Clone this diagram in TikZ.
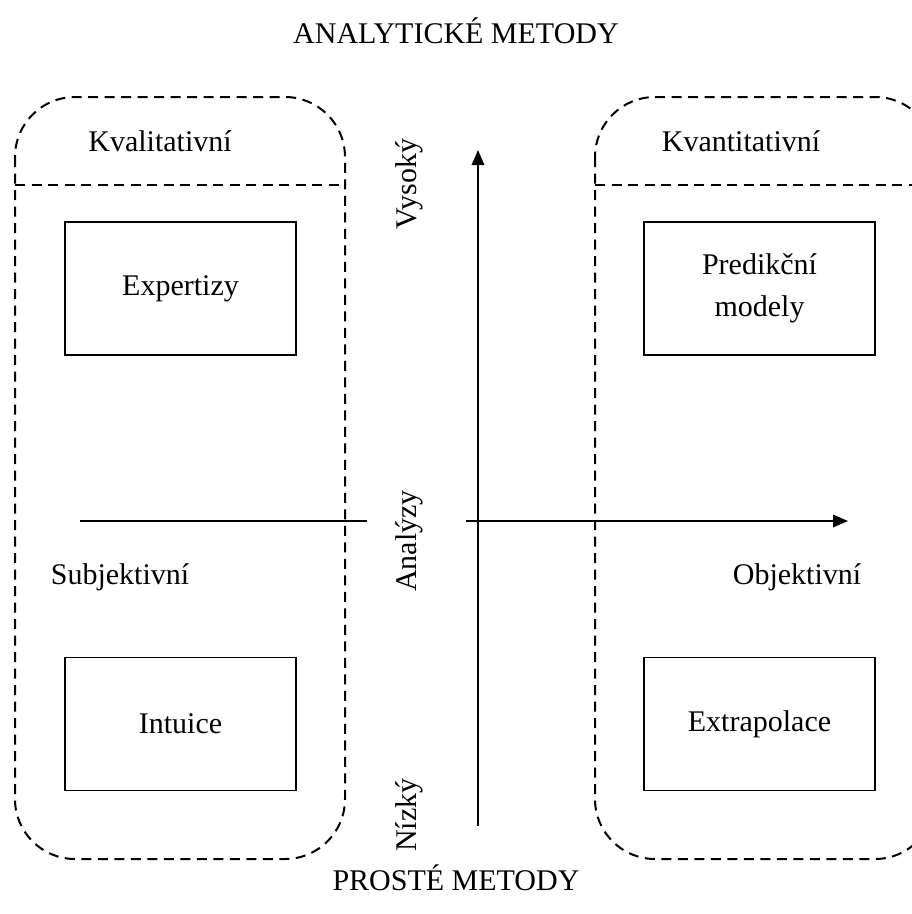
\documentclass[tikz,border=0pt]{standalone}
\usepackage{fontspec}
\setmainfont{Liberation Serif}
\usetikzlibrary{arrows.meta}

\tikzset{
	group/.style={draw, line width=0.8pt, dash pattern=on 4pt off 2.6pt, rounded corners=24pt},
	divider/.style={draw, line width=0.8pt, dash pattern=on 4pt off 2.6pt},
	method/.style={draw, line width=0.7pt, minimum width=92.4pt, minimum height=53.2pt, align=center, font=\fontsize{12}{17}\selectfont},
	caption/.style={font=\fontsize{12}{14}\selectfont},
	axis/.style={line width=0.7pt}
}

\begin{document}
\begin{tikzpicture}[x=0.4pt, y=-0.4pt]
			\useasboundingbox (0,0) rectangle (912,914);
			\clip (0,0) rectangle (912,914);
			%skupiny metod
			\draw[group] (15,97) rectangle (345,859);
			\draw[divider] (15,185) -- (345,185);
			\draw[group] (595,97) rectangle (935,859);
			\draw[divider] (595,185) -- (935,185);
			\node[caption] (kval) at (160,141) {Kvalitativní};
			\node[caption] (kvant) at (741,141) {Kvantitativní};
			%metody
			\node[method] (expertizy) at (180.5,288.5) {Expertizy};
			\node[method] (predikce) at (759.5,288.5) {Predikční\\modely};
			\node[method] (intuice) at (180.5,724) {Intuice};
			\node[method] (extrapolace) at (759.5,724) {Extrapolace};
			%osy
			\coordinate (Ytop) at (478,150);
			\coordinate (Ybot) at (478,826);
			\coordinate (Xl1) at (80,521);
			\coordinate (Xl2) at (367,521);
			\coordinate (Xr1) at (466,521);
			\coordinate (Xr2) at (848,521);
			\draw[axis, -{Triangle[length=6pt,width=5pt]}] (Ybot) -- (Ytop);
			\draw[axis] (Xl1) -- (Xl2);
			\draw[axis, -{Triangle[length=6pt,width=5pt]}] (Xr1) -- (Xr2);
			\node[caption, rotate=90] (vysoky) at (409,184) {Vysoký};
			\node[caption, rotate=90] (analyzy) at (409,541) {Analýzy};
			\node[caption, rotate=90] (nizky) at (409,815) {Nízký};
			\node[caption] (subj) at (120,577) {Subjektivní};
			\node[caption] (obj) at (797,577) {Objektivní};
			\node[caption] (analyticke) at (456,31) {ANALYTICKÉ METODY};
			\node[caption] (proste) at (456,878) {PROSTÉ METODY};
\end{tikzpicture}
\end{document}
